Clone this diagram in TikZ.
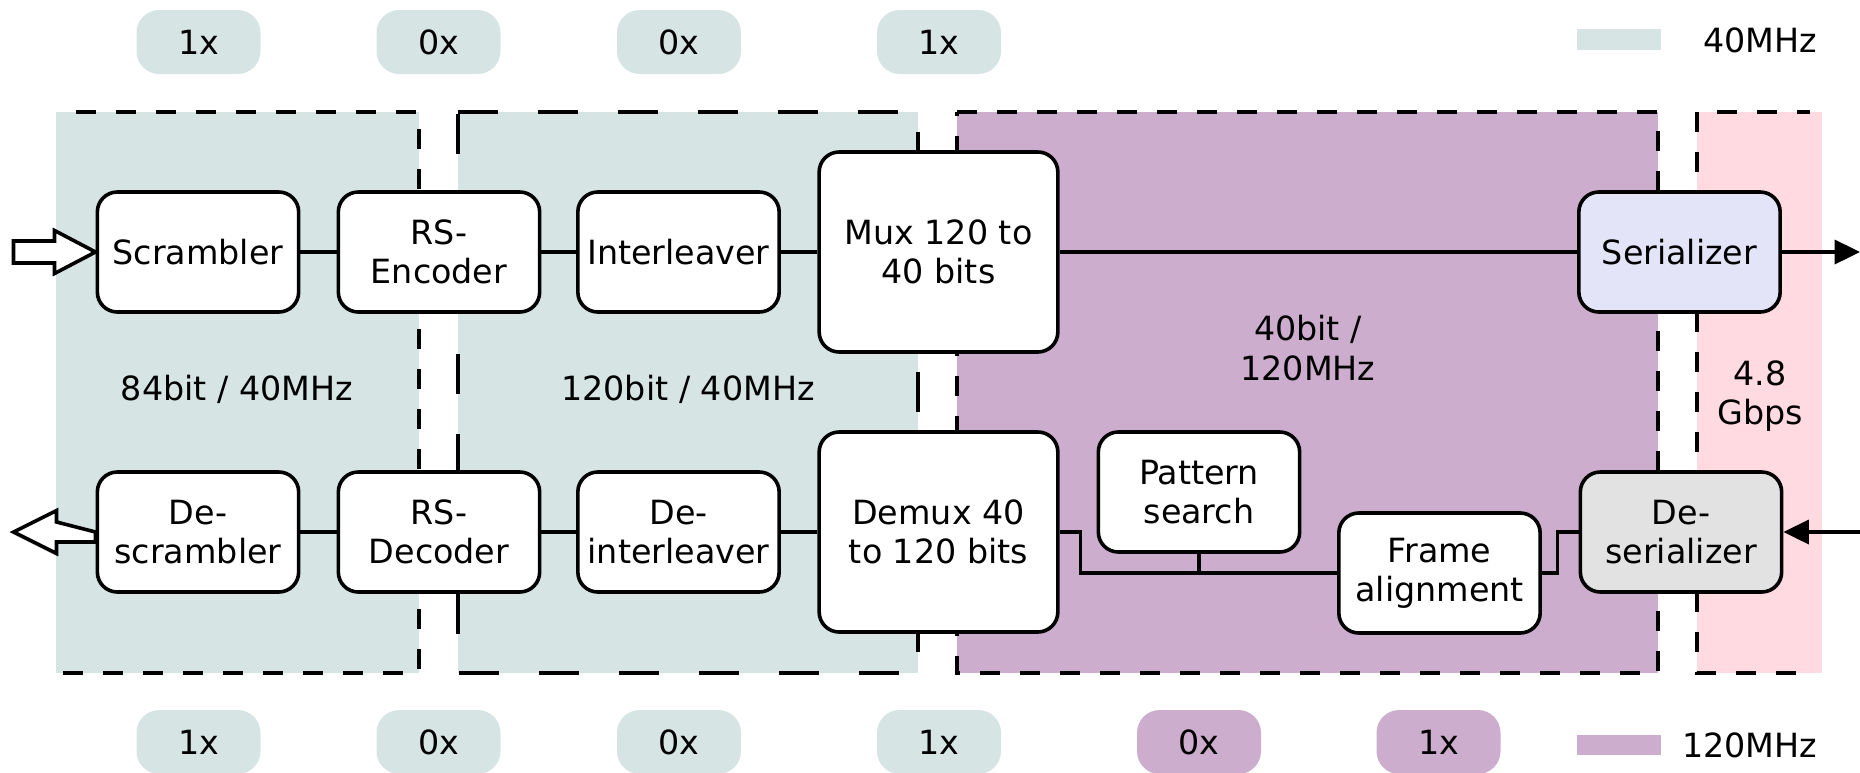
\documentclass[tikz,border=0pt]{standalone}
\usepackage{fontspec}
\setmainfont{DejaVu Sans}
\usepackage{tikz}
\usetikzlibrary{arrows.meta}

\definecolor{clkslow}{RGB}{214,228,227}
\definecolor{clkfast}{RGB}{205,173,205}
\definecolor{clkline}{RGB}{255,218,224}
\definecolor{serfill}{RGB}{228,228,248}
\definecolor{desfill}{RGB}{226,226,226}

\tikzset{
  blk/.style={draw, line width=2.7pt, rounded corners=15pt, fill=white, align=center,
    inner sep=0pt, minimum width=151pt, minimum height=90pt},
  bigblk/.style={blk, minimum width=179pt, minimum height=150pt},
  pill/.style={rounded corners=17pt, inner sep=0pt, minimum width=93pt, minimum height=48pt},
  wire/.style={line width=2.7pt},
  fence/.style={line width=2.7pt, dash pattern=on 15pt off 15pt},
  longfence/.style={line width=2.7pt, dash pattern=on 30pt off 30pt},
  hollow/.style={draw, line width=2.7pt, fill=white, line join=miter},
  tipped/.style={wire, -{Triangle[length=19pt,width=18pt]}}
}

\begin{document}
\begin{tikzpicture}[x=0.75pt,y=0.75pt,yscale=-1,xscale=1,font=\fontsize{25}{29.5}\selectfont]
        \useasboundingbox (0,0) rectangle (1860,772);

        %Shape: Rectangle [clock domains]
        \fill[clkslow] (56,112) rectangle (419,673);
        \fill[clkslow] (458,112) rectangle (918,673);
        \fill[clkfast] (957,112) rectangle (1658,673);
        \fill[clkline] (1697,112) rectangle (1822,673);
        \draw[fence, dash phase=15pt] (56,112) -- (419,112) -- (419,673) -- (56,673);
        \draw[longfence] (458,112) -- (918,112) -- (918,673) -- (458,673) -- cycle;
        \draw[fence] (957,112) -- (1658,112) -- (1658,673) -- (957,673) -- cycle;
        \draw[fence, dash phase=5pt] (1810,112) -- (1697,112) -- (1697,673) -- (1810,673);

        % Text Node
        \node (l84) at (237,389) {84bit / 40MHz};
        % Text Node
        \node (l120) at (688,389) {120bit / 40MHz};
        % Text Node
        \node[align=center] (l40) at (1308,348) {40bit /\\120MHz};
        % Text Node
        \node[align=center] (lgbps) at (1760,396) {4.8\\Gbps};

        %Shape: transmit path
        \node[blk] (scr) at (198,252) {Scrambler};
        \node[blk] (rse) at (439,252) {RS-\\Encoder};
        \node[blk] (intl) at (678.5,252) {Interleaver};
        \node[bigblk] (mux) at (938.5,252) {Mux 120 to\\40 bits};
        \node[blk, fill=serfill] (ser) at (1679.5,252) {Serializer};

        %Shape: receive path
        \node[blk] (dscr) at (198,532) {De-\\scrambler};
        \node[blk] (rsd) at (439,532) {RS-\\Decoder};
        \node[blk] (dintl) at (678.5,532) {De-\\interleaver};
        \node[bigblk] (demux) at (938.5,532) {Demux 40\\to 120 bits};
        \node[blk] (pat) at (1199,492) {Pattern\\search};
        \node[blk] (frame) at (1439.5,573) {Frame\\alignment};
        \node[blk, fill=desfill] (deser) at (1681,532) {De-\\serializer};

        \coordinate (outR) at (1860,252);
        \coordinate (inR) at (1860,532);

        %Straight Lines
        \draw[wire] (scr) -- (rse);
        \draw[wire] (rse) -- (intl);
        \draw[wire] (intl) -- (mux);
        \draw[wire] (mux) -- (ser);
        \draw[tipped] (ser) -- (outR);
        \draw[tipped] (inR) -- (deser);
        \draw[wire] (deser.west) -- ++(-21,0) |- (frame.east);
        \draw[wire] (frame.west) -| ([xshift=21*0.75pt]demux.east) -- (demux.east);
        \draw[wire] (pat.south) -- (pat.south |- frame.west);
        \draw[wire] (demux) -- (dintl);
        \draw[wire] (dintl) -- (rsd);
        \draw[wire] (rsd) -- (dscr);

        %Shape: hollow arrows
        \draw[hollow] (scr.west) -- ++(-41,-21.5) -- ++(0,10.5) -- ++(-41,0) -- ++(0,22) -- ++(41,0) -- ++(0,10.5) -- cycle;
        \draw[hollow] (dscr.west) -- ++(-39,-10) -- ++(0,-11.5) -- ++(-43,21.5) -- ++(43,21.5) -- ++(0,-11.5) -- ++(39,0) -- cycle;

        %Shape: clock ratio tags
        \foreach \n/\x/\t in {a/198.5/1x, b/438.5/0x, c/679/0x, d/939/1x} {
          \node[pill, fill=clkslow] (top\n) at (\x,42) {\t};
          }
        \foreach \n/\x/\t in {a/198.5/1x, b/438.5/0x, c/679/0x, d/939/1x} {
          \node[pill, fill=clkslow] (bot\n) at (\x,742) {\t};
          }
        \node[pill, fill=clkfast] (bote) at (1199,742) {0x};
        \node[pill, fill=clkfast] (botf) at (1438.5,742) {1x};

        %Shape: legend
        \fill[clkslow] (1577,29) rectangle (1661,50);
        \node[anchor=east] (leg40) at (1822,40) {40MHz};
        \fill[clkfast] (1577,735) rectangle (1661,755);
        \node[anchor=east] (leg120) at (1822,745) {120MHz};

    \end{tikzpicture}
\end{document}
